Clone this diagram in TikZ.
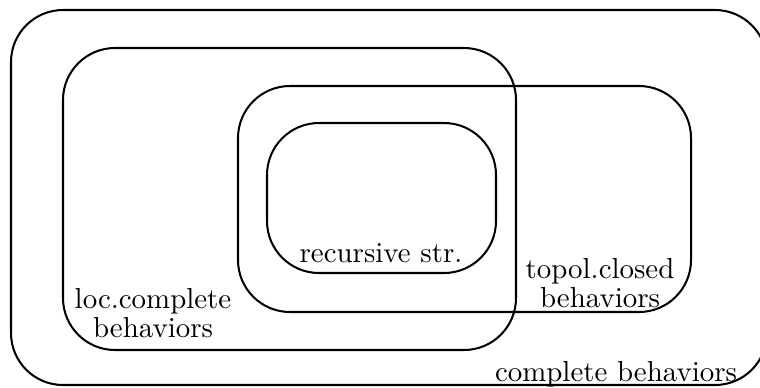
\documentclass[tikz,border=0pt]{standalone}
\usepackage{tikz}
\tikzset{
  region/.style={draw=black, line width=0.7pt, rounded corners=18pt},
  lbl/.style={font=\fontsize{10pt}{8.65pt}\selectfont, align=center, inner sep=0pt, anchor=base}
}
\begin{document}
\begin{tikzpicture}[x=0.346pt, y=-0.346pt]
  \useasboundingbox (0,0) rectangle (760,387);
  \clip (0,0) rectangle (760,387);
  % nested classes of behaviors
  \draw[region] (11,10) rectangle (767,385);
  \draw[region] (63,48) rectangle (516,350);
  \draw[region] (238,86) rectangle (691,312);
  \draw[region] (267,123) rectangle (496,273);
  % labels
  \node[lbl] (rec) at (381,262) {recursive str.};
  \node[lbl] (top) at (600,307) {topol.closed\\behaviors};
  \node[lbl] (loc) at (153,337) {loc.complete\\behaviors};
  \node[lbl] (com) at (616,381) {complete behaviors};
\end{tikzpicture}
\end{document}
